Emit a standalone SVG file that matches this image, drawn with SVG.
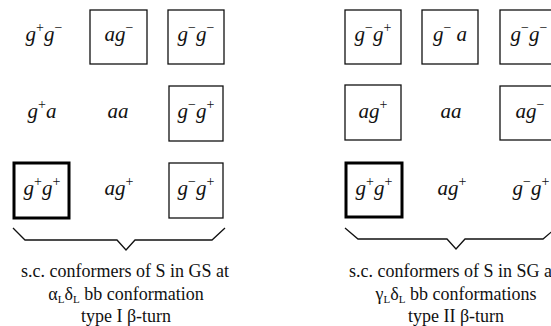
<svg xmlns="http://www.w3.org/2000/svg" width="551" height="326" viewBox="0 0 551 326">
  <style>
    .bg { fill: #ffffff; }
    .box { fill: none; stroke: #111; stroke-width: 1.3; }
    .box-bold { fill: none; stroke: #000; stroke-width: 3; }
    .lbl { font-family: "Liberation Serif", "Times New Roman", serif; font-style: italic; font-size: 21px; fill: #111; text-anchor: middle; }
    .sup { font-size: 14px; font-style: normal; }
    .cap { font-family: "Liberation Serif", "Times New Roman", serif; font-size: 18px; fill: #111; text-anchor: middle; }
    .sub { font-size: 11px; }
    .brace { fill: none; stroke: #111; stroke-width: 1.3; stroke-linejoin: miter; }
  </style>
  <rect class="bg" x="0" y="0" width="551" height="326"/>

  <!-- Left panel: GS conformers -->
  <g id="gs-gpgm">
    <text class="lbl" x="44" y="41">g<tspan class="sup" dy="-9">+</tspan><tspan dy="9">g</tspan><tspan class="sup" dy="-9">−</tspan></text>
  </g>
  <g id="gs-agm">
    <rect class="box" x="90" y="10" width="57" height="54"/>
    <text class="lbl" x="119" y="41">ag<tspan class="sup" dy="-9">−</tspan></text>
  </g>
  <g id="gs-gmgm">
    <rect class="box" x="168" y="10" width="56" height="54"/>
    <text class="lbl" x="196" y="41">g<tspan class="sup" dy="-9">−</tspan><tspan dy="9">g</tspan><tspan class="sup" dy="-9">−</tspan></text>
  </g>
  <g id="gs-gpa">
    <text class="lbl" x="42" y="118">g<tspan class="sup" dy="-9">+</tspan><tspan dy="9">a</tspan></text>
  </g>
  <g id="gs-aa">
    <text class="lbl" x="118" y="118">aa</text>
  </g>
  <g id="gs-gmgp">
    <rect class="box" x="169" y="86" width="54" height="55"/>
    <text class="lbl" x="196" y="118">g<tspan class="sup" dy="-9">−</tspan><tspan dy="9">g</tspan><tspan class="sup" dy="-9">+</tspan></text>
  </g>
  <g id="gs-gpgp">
    <rect class="box-bold" x="14" y="163" width="55" height="55"/>
    <text class="lbl" x="42" y="195">g<tspan class="sup" dy="-9">+</tspan><tspan dy="9">g</tspan><tspan class="sup" dy="-9">+</tspan></text>
  </g>
  <g id="gs-agp">
    <text class="lbl" x="119" y="195">ag<tspan class="sup" dy="-9">+</tspan></text>
  </g>
  <g id="gs-gmgp2">
    <rect class="box" x="169" y="163" width="54" height="55"/>
    <text class="lbl" x="196" y="195">g<tspan class="sup" dy="-9">−</tspan><tspan dy="9">g</tspan><tspan class="sup" dy="-9">+</tspan></text>
  </g>

  <!-- Right panel: SG conformers -->
  <g id="sg-gmgp">
    <rect class="box" x="345" y="10" width="56" height="54"/>
    <text class="lbl" x="373" y="41">g<tspan class="sup" dy="-9">−</tspan><tspan dy="9">g</tspan><tspan class="sup" dy="-9">+</tspan></text>
  </g>
  <g id="sg-gma">
    <rect class="box" x="422" y="10" width="56" height="54"/>
    <text class="lbl" x="450" y="41">g<tspan class="sup" dy="-9">−</tspan><tspan dy="9"> a</tspan></text>
  </g>
  <g id="sg-gmgm">
    <rect class="box" x="500" y="10" width="56" height="54"/>
    <text class="lbl" x="529" y="41">g<tspan class="sup" dy="-9">−</tspan><tspan dy="9">g</tspan><tspan class="sup" dy="-9">−</tspan></text>
  </g>
  <g id="sg-agp">
    <rect class="box" x="345" y="85" width="56" height="55"/>
    <text class="lbl" x="373" y="118">ag<tspan class="sup" dy="-9">+</tspan></text>
  </g>
  <g id="sg-aa">
    <text class="lbl" x="451" y="118">aa</text>
  </g>
  <g id="sg-agm">
    <rect class="box" x="500" y="86" width="56" height="54"/>
    <text class="lbl" x="530" y="118">ag<tspan class="sup" dy="-9">−</tspan></text>
  </g>
  <g id="sg-gpgp">
    <rect class="box-bold" x="346" y="163" width="56" height="54"/>
    <text class="lbl" x="374" y="195">g<tspan class="sup" dy="-9">+</tspan><tspan dy="9">g</tspan><tspan class="sup" dy="-9">+</tspan></text>
  </g>
  <g id="sg-agp2">
    <text class="lbl" x="452" y="195">ag<tspan class="sup" dy="-9">+</tspan></text>
  </g>
  <g id="sg-gmgp2">
    <text class="lbl" x="531" y="195">g<tspan class="sup" dy="-9">−</tspan><tspan dy="9">g</tspan><tspan class="sup" dy="-9">+</tspan></text>
  </g>

  <!-- Grouping braces -->
  <g id="connectors">
    <polyline class="brace" points="13,228 25,240 117,240 126,250 135,240 212,240 225,228"/>
    <polyline class="brace" points="345,228 358,239 447,239 456,249 465,239 543,239 556,228"/>
  </g>

  <!-- Captions -->
  <g id="caption-gs">
    <text class="cap" x="125" y="277">s.c. conformers of S in GS at</text>
    <text class="cap" x="126" y="300">α<tspan class="sub" dy="3">L</tspan><tspan dy="-3">δ</tspan><tspan class="sub" dy="3">L</tspan><tspan dy="-3"> bb conformation</tspan></text>
    <text class="cap" x="126" y="322">type I β-turn</text>
  </g>
  <g id="caption-sg">
    <text class="cap" x="349" y="277" style="text-anchor:start">s.c. conformers of S in SG at</text>
    <text class="cap" x="456" y="300">γ<tspan class="sub" dy="3">L</tspan><tspan dy="-3">δ</tspan><tspan class="sub" dy="3">L</tspan><tspan dy="-3"> bb conformations</tspan></text>
    <text class="cap" x="456" y="322">type II β-turn</text>
  </g>
</svg>
